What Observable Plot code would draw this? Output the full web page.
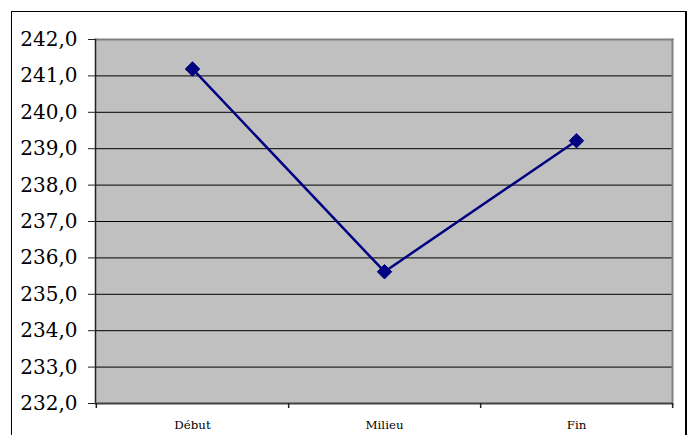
<!DOCTYPE html>
<html>
<head>
<meta charset="utf-8">
<script src="https://cdn.jsdelivr.net/npm/d3@7"></script>
<script src="https://cdn.jsdelivr.net/npm/@observablehq/plot@0.6"></script>
<style>
  html, body { margin: 0; padding: 0; background: #fff; }
  #wrap { position: relative; width: 690px; height: 435px; overflow: hidden; }
  #border { position: absolute; left: 11px; top: 11px; width: 673px; height: 440px;
            border-left: 1px solid #000; border-top: 1px solid #000; border-right: 2px solid #000; box-sizing: content-box; }
  #chart { position: absolute; left: 0; top: 0; }
</style>
</head>
<body>
<div id="wrap"><div id="chart"></div><div id="border"></div></div>
<script>
const categories = ["Début", "Milieu", "Fin"];
const values = [241.19, 235.62, 239.22];
const yTicks = [232, 233, 234, 235, 236, 237, 238, 239, 240, 241, 242];

const data = categories.map((c, i) => ({cat: c, value: values[i]}));

const W = 690, H = 435, ML = 95, MR = 18, MT = 39, MB = 32;
const step = (W - ML - MR) / categories.length;
const fmt = d => d.toFixed(1).replace(".", ",");
const serif = "DejaVu Serif";

const chart = Plot.plot({
  width: W, height: H,
  marginLeft: ML, marginRight: MR, marginTop: MT, marginBottom: MB,
  style: "background: transparent; color: #000; font-family: 'DejaVu Serif', serif;",
  x: {type: "point", domain: categories, padding: 0.5, axis: null},
  y: {domain: [232, 242], axis: null},
  marks: [
    Plot.frame({fill: "#c0c0c0"}),
    Plot.ruleY(yTicks.slice(1, -1), {stroke: "#000", strokeWidth: 1}),
    Plot.frame({anchor: "top", stroke: "#808080", strokeWidth: 2}),
    Plot.frame({anchor: "right", stroke: "#808080", strokeWidth: 2}),
    Plot.frame({anchor: "left", stroke: "#222", strokeWidth: 1.5}),
    Plot.ruleY([232], {stroke: "#404040", strokeWidth: 2}),
    Plot.axisY(yTicks, {tickSize: 7, tickPadding: 11, tickFormat: fmt, fontSize: 20, fontFamily: serif, label: null, stroke: "#222"}),
    Plot.ruleX([categories[0]], {x: d => d, dx: -step / 2, y1: 232, y2: 232, insetBottom: -5, stroke: "#222", strokeWidth: 1.5}),
    Plot.ruleX(categories, {x: d => d, dx: step / 2, y1: 232, y2: 232, insetBottom: -5, stroke: "#222", strokeWidth: 1.5}),
    Plot.axisX(categories, {tickSize: 0, tickPadding: 17, fontSize: 11.8, fontFamily: serif, label: null}),
    Plot.line(data, {x: "cat", y: "value", stroke: "#000080", strokeWidth: 2.5}),
    Plot.dot(data, {x: "cat", y: "value", symbol: "diamond2", r: 6.5, fill: "#000080", stroke: "#000080", strokeWidth: 1})
  ]
});
document.getElementById("chart").appendChild(chart);
</script>
</body>
</html>
